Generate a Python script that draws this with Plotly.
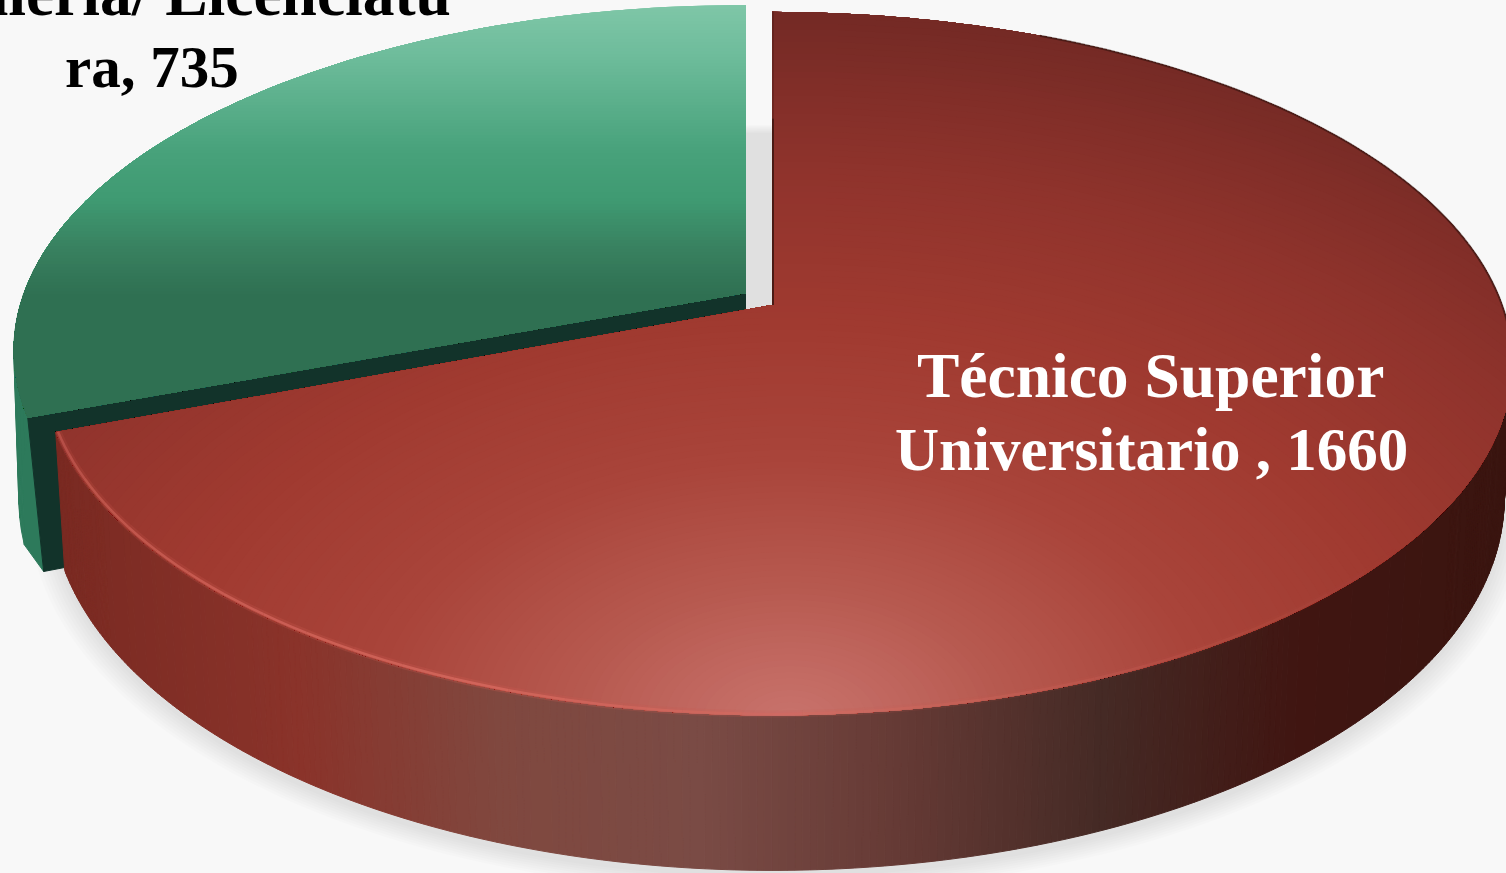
import numpy as np
import plotly.graph_objects as go

categories = ["Ingeniería/ Licenciatura", "Técnico Superior Universitario "]
values = [735, 1660]

W, H = 1506, 873
K = 1 / 6
red_sweep = 360 * values[1] / sum(values)

RED_TOP = dict(cx=772, cy=305, al=720, ar=730, b=342)
RED_BOT = dict(cx=772, cy=436, al=711, ar=722, b=362)
GRN_TOP = dict(cx=746, cy=293, al=722, ar=722, b=336)
GRN_BOT = dict(cx=746, cy=437, al=706, ar=706, b=362)
GRN_WALL = dict(cx=746, cy=437, al=717, ar=717, b=362)


def proj(theta, r, g):
    t = np.radians(theta)
    u, v = r * np.sin(t), r * np.cos(t)
    w = 1 + K * v
    a = np.where(u < 0, g["al"], g["ar"])
    return g["cx"] + a * u / w, g["cy"] - g["b"] * v / w


def hex2rgb(h):
    return np.array([int(h[i:i + 2], 16) for i in (1, 3, 5)], float)


def ramp(stops, s):
    xs = [p for p, _ in stops]
    cols = np.array([hex2rgb(c) for _, c in stops])
    return tuple(int(round(np.interp(s, xs, cols[:, i]))) for i in range(3))


fig = go.Figure()


def poly(x, y, fill, line=None, lw=0):
    fig.add_trace(go.Scatter(
        x=x, y=y, mode="lines", fill="toself", fillcolor=fill,
        line=dict(color=line or "rgba(0,0,0,0)", width=lw, simplify=False),
        hoverinfo="skip", showlegend=False))


def stroke(x, y, color, width):
    fig.add_trace(go.Scatter(x=x, y=y, mode="lines",
                             line=dict(color=color, width=width, simplify=False),
                             hoverinfo="skip", showlegend=False))


def clip_half(pts, a, b, c):
    """Keep the part of polygon pts where a*x + b*y <= c."""
    out = []
    if not pts:
        return out
    px, py = pts[-1]
    ps = a * px + b * py - c
    for qx, qy in pts:
        qs = a * qx + b * qy - c
        if (ps <= 0) != (qs <= 0):
            f = ps / (ps - qs)
            out.append((px + f * (qx - px), py + f * (qy - py)))
        if qs <= 0:
            out.append((qx, qy))
        px, py, ps = qx, qy, qs
    return out


def wedge(t0, t1, n, g):
    ts = np.linspace(t0, t1, n)
    x, y = proj(ts, 1.0, g)
    ax, ay = proj(np.array([0.0]), 0.0, g)
    return [(float(ax[0]), float(ay[0]))] + list(zip(x.tolist(), y.tolist()))


RED_STOPS = [(0, "#c8736c"), (70, "#c0665e"), (130, "#b75a50"), (260, "#a9443a"),
             (400, "#a03a30"), (550, "#8f332c"), (700, "#752a25")]
GREEN_STOPS = [(3, "#80c7a8"), (60, "#6cbb9a"), (150, "#48a27b"), (200, "#3f9a72"),
               (250, "#38805f"), (295, "#2f7052")]
SIDE_STOPS = [(60, "#7a2a22"), (300, "#8a332a"), (500, "#80483f"), (700, "#7a4b45"),
              (900, "#653a35"), (1100, "#452a25"), (1300, "#401511"), (1506, "#3a1510")]

# floor shadow
ta = np.linspace(0, 360, 361)
for scale in np.linspace(1.03, 1.0, 8):
    sx, sy = proj(ta, scale, RED_BOT)
    poly(sx, sy + 7, "rgba(0,0,0,0.011)")

# green outer wall as separate strips, then the dark cut face
tg = np.linspace(red_sweep + 4, 300, 24)
x1, y1 = proj(tg, 1.0, GRN_TOP)
x2, y2 = proj(tg, 1.0, GRN_WALL)
sw = np.array([red_sweep])
xa, ya = proj(sw, 1.0, GRN_TOP)
xb, yb = proj(sw, 1.0, GRN_BOT)
xc, yc = proj(sw, 0.0, GRN_TOP)
xd, yd = proj(sw, 0.0, GRN_BOT)
poly([xa[0], x1[0], x2[0], xb[0], xa[0]], [ya[0], y1[0], y2[0], yb[0], ya[0]],
     "#2d7a5b", "#2d7a5b", 1)
for i in range(len(tg) - 1):
    poly([x1[i], x1[i + 1], x2[i + 1], x2[i], x1[i]],
         [y1[i], y1[i + 1], y2[i + 1], y2[i], y1[i]], "#2d7a5b", "#2d7a5b", 1)
poly([xc[0], xa[0], xb[0], xd[0]], [yc[0], ya[0], yb[0], yd[0]], "#12332a", "#12332a", 1)

# green top: nested vertical gradient
gp = wedge(red_sweep, 360, 90, GRN_TOP)
for yy in np.arange(0, 420, 3):
    gp = clip_half(gp, 0, -1, -float(yy))
    if len(gp) < 3:
        break
    xs, ys = zip(*gp)
    poly(list(xs) + [xs[0]], list(ys) + [ys[0]], "rgb(%d,%d,%d)" % ramp(GREEN_STOPS, yy + 1.5))

# red side wall
ts = np.linspace(80, red_sweep, 340)
X1, Y1 = proj(ts, 1.0, RED_TOP)
X2, Y2 = proj(ts, 1.0, RED_BOT)
bins = {}
for i in range(len(ts) - 1):
    qx = [X1[i], X1[i + 1], X2[i + 1], X2[i], X1[i], None]
    qy = [Y1[i], Y1[i + 1], Y2[i + 1], Y2[i], Y1[i], None]
    col = ramp(SIDE_STOPS, (X1[i] + X1[i + 1] + X2[i] + X2[i + 1]) / 4)
    b = bins.setdefault(col, ([], []))
    b[0].extend(qx)
    b[1].extend(qy)
for col, (bx, by) in bins.items():
    c = "rgb(%d,%d,%d)" % col
    poly(bx, by, c, c, 1)

# red top: nested elliptical gradient
rp = wedge(0, red_sweep, 240, RED_TOP)
FX, FY, FS = 790.0, 720.0, 1.6
xs, ys = zip(*rp)
poly(list(xs) + [xs[0]], list(ys) + [ys[0]], "rgb(%d,%d,%d)" % ramp(RED_STOPS, 800))
angles = np.radians(np.arange(0, 360, 5))
for d in np.arange(780, 4, -6):
    cur = rp
    for an in angles:
        ca, sa = float(np.cos(an)), float(np.sin(an))
        a, b = ca / FS, sa
        c = a * FX + b * FY + float(d)
        cur = clip_half(cur, a, b, c)
        if len(cur) < 3:
            break
    if len(cur) < 3:
        continue
    xs, ys = zip(*cur)
    poly(list(xs) + [xs[0]], list(ys) + [ys[0]], "rgb(%d,%d,%d)" % ramp(RED_STOPS, d - 3))

# soft rim highlight on the red front
for a, b in zip(np.arange(130, red_sweep, 4), np.arange(134, red_sweep + 4, 4)):
    tt = np.linspace(a, min(b, red_sweep), 4)
    hx, hy = proj(tt, 0.997, RED_TOP)
    al = np.interp((a + b) / 2, [130, 170, 200, 249], [0, .3, .8, .45])
    stroke(hx, hy, "rgba(205,90,80,%.2f)" % (al * .35), 7)
    stroke(hx, hy, "rgba(215,105,95,%.2f)" % al, 2.5)

# dark edges
hx, hy = proj(np.linspace(25, 100, 60), 1.0, RED_TOP)
stroke(hx, hy, "rgba(50,20,15,.6)", 2)
ex, ey = proj(np.array([0.0, 0.0]), np.array([0.0, 0.6]), RED_TOP)
stroke(ex + 1, ey, "#4a1a14", 2)
ex, ey = proj(np.array([0.0, 0.0]), np.array([0.6, 1.0]), RED_TOP)
stroke(ex + 1, ey, "rgba(74,26,20,.5)", 1.5)

SERIF = "Liberation Serif"
name_g = categories[0]
name_r = categories[1]
labels = [
    (name_g[:-2], 152, 15, 63.5, "#000000"),
    (name_g[-2:] + ", " + str(values[0]), 152, 87, 59, "#000000"),
    (name_r[:16], 1150, 397, 63.5, "#ffffff"),
    (name_r[17:] + ", " + str(values[1]), 1151, 470, 61, "#ffffff"),
]
for text, x, base, size, col in labels:
    fig.add_annotation(x=x, y=base + 0.25 * size, text=text, showarrow=False, xref="x", yref="y",
                       yanchor="bottom", font=dict(family=SERIF, size=size, color=col, weight="bold"))

fig.update_layout(
    width=W, height=H, margin=dict(l=0, r=0, t=0, b=0),
    paper_bgcolor="#f8f8f8", plot_bgcolor="#f8f8f8", showlegend=False,
    xaxis=dict(range=[0, W], visible=False, fixedrange=True),
    yaxis=dict(range=[H, 0], visible=False, fixedrange=True),
)
fig.write_html("out.html", config=dict(displayModeBar=False),
               post_script="document.body.style.margin='0';document.body.style.overflow='hidden';")
